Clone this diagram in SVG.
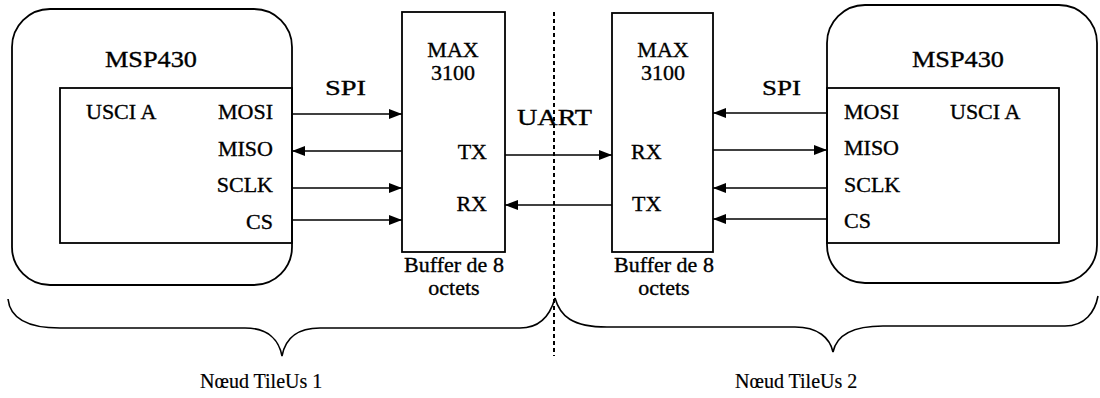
<svg xmlns="http://www.w3.org/2000/svg" width="1100" height="398" viewBox="0 0 1100 398">
<style>
text{font-family:"Liberation Serif","Times New Roman",serif;font-size:22px;fill:#000;stroke:#000;stroke-width:0.35}
.big{font-size:23px}
.nd{font-size:20px;stroke-width:0.2}
.ln{fill:none;stroke:#000;stroke-width:1.6}
.box{fill:none;stroke:#000;stroke-width:1.8}
.end{text-anchor:end}
.mid{text-anchor:middle}
</style>
<defs>
<marker id="ah" markerWidth="13" markerHeight="10" refX="13" refY="5" orient="auto" markerUnits="userSpaceOnUse">
<path d="M0,0 L13,5 L0,10 Z" fill="#000"/>
</marker>
</defs>
<rect width="1100" height="398" fill="#fff"/>

<g id="node-msp430-1" font-family="Liberation Serif, serif">
<rect class="box" x="12" y="9" width="280" height="276" rx="38" ry="38"/>
<rect class="box" x="60" y="88" width="232" height="155"/>
<text class="big" x="105" y="67" textLength="92" lengthAdjust="spacingAndGlyphs">MSP430</text>
<text x="86" y="119">USCI A</text>
<text class="end" x="273" y="119">MOSI</text>
<text class="end" x="273" y="156">MISO</text>
<text class="end" x="273" y="192">SCLK</text>
<text class="end" x="273" y="229">CS</text>
</g>

<g id="node-max3100-1" font-family="Liberation Serif, serif">
<rect class="box" x="402" y="12" width="103" height="240"/>
<text class="mid" x="453" y="57">MAX</text>
<text class="mid" x="453" y="80">3100</text>
<text class="end" x="487" y="159">TX</text>
<text class="end" x="487" y="211">RX</text>
<text class="mid" x="454" y="272">Buffer de 8</text>
<text class="mid" x="454" y="295">octets</text>
</g>

<g id="node-max3100-2" font-family="Liberation Serif, serif">
<rect class="box" x="612" y="13" width="101" height="239"/>
<text class="mid" x="663" y="57">MAX</text>
<text class="mid" x="663" y="80">3100</text>
<text x="631" y="159">RX</text>
<text x="632" y="211">TX</text>
<text class="mid" x="664" y="272">Buffer de 8</text>
<text class="mid" x="664" y="295">octets</text>
</g>

<g id="node-msp430-2" font-family="Liberation Serif, serif">
<rect class="box" x="827" y="5" width="270" height="278" rx="38" ry="38"/>
<rect class="box" x="827" y="88" width="232" height="155"/>
<text class="big" x="912" y="67" textLength="92" lengthAdjust="spacingAndGlyphs">MSP430</text>
<text x="950" y="119">USCI A</text>
<text x="844" y="119">MOSI</text>
<text x="844" y="155">MISO</text>
<text x="844" y="192">SCLK</text>
<text x="844" y="228">CS</text>
</g>

<g id="labels" font-family="Liberation Serif, serif">
<text x="325" y="95" textLength="41" lengthAdjust="spacingAndGlyphs">SPI</text>
<text x="762" y="95" textLength="39" lengthAdjust="spacingAndGlyphs">SPI</text>
<text class="big" x="517" y="125" textLength="75" lengthAdjust="spacingAndGlyphs">UART</text>
<text class="nd" x="200" y="388">Nœud TileUs 1</text>
<text class="nd" x="735" y="388">Nœud TileUs 2</text>
</g>

<g id="connectors">
<line class="ln" x1="292" y1="114" x2="402" y2="114" marker-end="url(#ah)"/>
<line class="ln" x1="402" y1="151" x2="292" y2="151" marker-end="url(#ah)"/>
<line class="ln" x1="292" y1="188" x2="402" y2="188" marker-end="url(#ah)"/>
<line class="ln" x1="292" y1="220" x2="402" y2="220" marker-end="url(#ah)"/>
<line class="ln" x1="505" y1="155" x2="612" y2="155" marker-end="url(#ah)"/>
<line class="ln" x1="612" y1="205" x2="505" y2="205" marker-end="url(#ah)"/>
<line class="ln" x1="827" y1="113" x2="713" y2="113" marker-end="url(#ah)"/>
<line class="ln" x1="713" y1="150" x2="827" y2="150" marker-end="url(#ah)"/>
<line class="ln" x1="827" y1="188" x2="713" y2="188" marker-end="url(#ah)"/>
<line class="ln" x1="827" y1="219" x2="713" y2="219" marker-end="url(#ah)"/>
<line x1="554" y1="12" x2="554" y2="356" stroke="#000" stroke-width="2" stroke-dasharray="4 3"/>
<path class="ln" d="M8,299 C10,318 28,328 60,328 L245,328 C268,328 279,340 282,356 C285,340 296,328 320,328 L520,328 C540,328 550,316 555,298"/>
<path class="ln" d="M555,298 C560,316 572,327 607,327 L795,327 C818,327 830,338 833,352 C836,338 848,326 883,326 L1065,326 C1085,326 1095,312 1098,296"/>
</g>
</svg>
